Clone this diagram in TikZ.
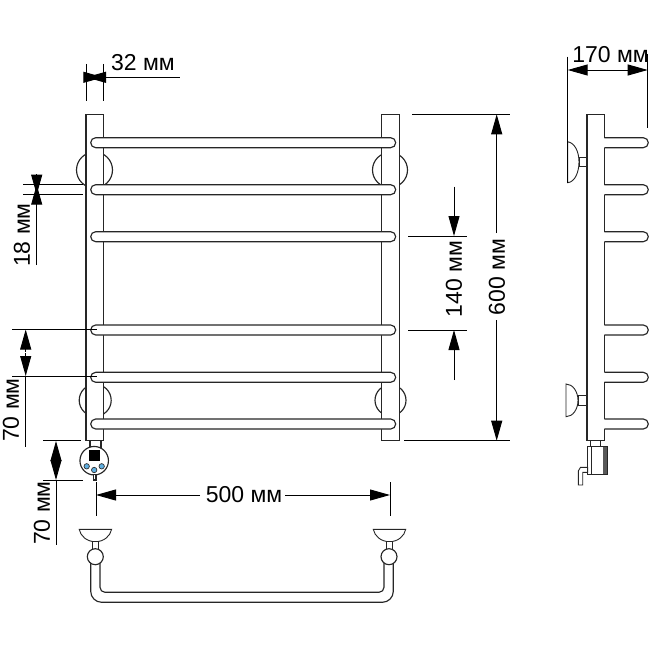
\documentclass[tikz,border=0pt]{standalone}
\usepackage{fontspec}
\setmainfont{Liberation Sans}
\usetikzlibrary{arrows.meta}

\definecolor{knobblue}{RGB}{95,175,225}

\tikzset{
    part/.style={draw=black!85, line width=1.15pt, fill=white},
    thin part/.style={draw=black!85, line width=0.9pt, fill=white},
    dim/.style={draw=black, line width=0.95pt},
    dimtip/.style={dim, -{Triangle[length=20pt, width=11pt]}},
    dimtext/.style={inner sep=0pt, font=\fontsize{23}{26}\selectfont},
    knob/.style={draw=black!80, line width=0.7pt, fill=knobblue},
}

\begin{document}
\begin{tikzpicture}[x=1pt, y=-1pt]
    \useasboundingbox (0, 0) rectangle (650, 650);

    % front view: wall mounts, rails, bars
    \node[circle, part, minimum size=36pt, inner sep=0pt] at (94.5, 170) (mountA) {};
    \node[circle, part, minimum size=35pt, inner sep=0pt] at (390, 170) (mountB) {};
    \node[circle, part, minimum size=32pt, inner sep=0pt] at (95.2, 400.3) (mountC) {};
    \node[circle, part, minimum size=31pt, inner sep=0pt] at (390.5, 400.3) (mountD) {};
    \draw[part] (86, 114.5) rectangle (103.5, 440.5);
    \draw[part] (381.7, 114.5) rectangle (399.3, 440.5);
    \foreach \y in {137.7, 184.7, 231.7, 325, 372.3, 419} {
        \draw[part, rounded corners=5pt] (90.7, \y) rectangle (395.7, \y+10);
    }

    % heater, front
    \draw[part] (90, 440.5) rectangle (101, 449);
    \node[circle, part, minimum size=28.5pt, inner sep=0pt] at (94.2, 460.7) (bulb) {};
    \draw[part] (93.2, 474.8) rectangle (96, 480);
    \fill[black] (89.2, 449.5) rectangle (100, 460.5);
    \foreach \x/\y in {86.7/466.3, 94.2/470, 101.7/466.3} {
        \draw[knob] (\x, \y) circle (2.7pt);
    }

    % view from below
    \foreach \x in {95.4, 389.5} {
        \draw[thin part] (\x-16.2, 529.3) -- (\x+16.2, 529.3)
            .. controls (\x+15, 536) and (\x+8.5, 541.7) .. (\x, 541.7)
            .. controls (\x-8.5, 541.7) and (\x-15, 536) .. cycle;
        \draw[thin part] (\x-3, 541.7) rectangle (\x+3, 550);
    }
    \draw[part, fill=none, rounded corners=11pt] (90.7, 560) -- (90.7, 602.3) -- (393.3, 602.3) -- (393.3, 560);
    \draw[part, fill=none, rounded corners=5pt] (100, 560) -- (100, 592.3) -- (384, 592.3) -- (384, 560);
    \node[circle, part, minimum size=16pt, inner sep=0pt] at (95.3, 556.7) (ballL) {};
    \node[circle, part, minimum size=16pt, inner sep=0pt] at (389, 556.7) (ballR) {};

    % side view
    \draw[thin part] (579, 157.7) rectangle (587, 166.7);
    \draw[thin part] (578, 395.7) rectangle (587, 405);
    \draw[thin part] (567.7, 141.7) .. controls (575, 143) and (579, 152) .. (579, 162)
        .. controls (579, 172) and (575, 182) .. (567.7, 182.7) -- cycle;
    \draw[thin part] (566, 384) .. controls (573, 384) and (578, 392) .. (578, 400.3)
        .. controls (578, 409) and (573, 416.7) .. (566, 416.7) -- cycle;
    \draw[part] (587, 114.5) rectangle (604.3, 440.5);
    \foreach \y in {137.7, 184.7, 231.7, 325, 372.3, 419} {
        \fill[white] (603, \y) rectangle (606, \y+10);
        \draw[part, fill=none] (604.3, \y) -- (643.3, \y)
            arc[start angle=90, end angle=-90, radius=5pt] -- (604.3, \y+10);
    }

    % heater, side
    \draw[part] (590.7, 440.5) rectangle (600.7, 446.7);
    \draw[part, line width=0.9pt] (578.3, 485) -- (578.3, 471) -- (580.5, 467.3) -- (587.7, 467.3)
        -- (587.7, 472.3) -- (582.7, 472.3) -- (582.7, 485) -- cycle;
    \fill[black!65] (603.3, 446.7) rectangle (607.7, 474.3);
    \draw[part, fill=none] (587.7, 446.7) rectangle (607.7, 474.3);
    \draw[part, fill=none] (591.7, 446.7) -- (591.7, 474.3);

    % labels
    \node[dimtext, anchor=west] at (111, 63) (widthLabel) {32 мм};
    \node[dimtext, rotate=90] at (22, 235) (gapLabel) {18 мм};
    \node[dimtext, rotate=90] at (11, 410) (stepLabel) {70 мм};
    \node[dimtext, rotate=90] at (42, 513) (heaterLabel) {70 мм};
    \node[dimtext] at (244, 495) (spanLabel) {500 мм};
    \node[dimtext, rotate=90] at (454, 279) (pitchLabel) {140 мм};
    \node[dimtext, rotate=90] at (497, 277) (heightLabel) {600 мм};
    \node[dimtext] at (610.5, 55) (depthLabel) {170 мм};

    % extension lines
    \draw[dim] (86, 64) -- (86, 101);
    \draw[dim] (103.3, 64) -- (103.3, 101);
    \draw[dim] (23, 184.7) -- (83, 184.7);
    \draw[dim] (23, 194.7) -- (82.7, 194.7);
    \draw[dim] (12, 329.5) -- (97, 329.5);
    \draw[dim] (12, 376) -- (97, 376);
    \draw[dim] (43, 440.7) -- (81, 440.7);
    \draw[dim] (43, 480) -- (83, 480);
    \draw[dim] (96, 482) -- (96, 515.5);
    \draw[dim] (390, 482) -- (390, 515.5);
    \draw[dim] (412, 114.3) -- (510, 114.3);
    \draw[dim] (404, 440.7) -- (510, 440.7);
    \draw[dim] (408, 236) -- (467, 236);
    \draw[dim] (408, 330) -- (467, 330);
    \draw[dim] (567.7, 56.7) -- (567.7, 183);
    \draw[dim] (647.7, 54) -- (647.7, 128);

    % dimension arrows
    \draw[dimtip] (84, 77.3) -- (103.3, 77.3);
    \draw[dimtip] (179.5, 77.3) -- (86, 77.3);
    \draw[dimtip] (36.7, 174) -- (36.7, 194.7);
    \draw[dimtip] (36.7, 265) -- (36.7, 184.7);
    \draw[dimtip] (25.7, 352) -- (25.7, 329.5);
    \draw[dimtip] (25.7, 353) -- (25.7, 376);
    \draw[dim] (25.7, 376) -- (25.7, 447.3);
    \draw[dimtip] (56, 461) -- (56, 441);
    \draw[dimtip] (56, 460) -- (56, 480);
    \draw[dim] (56, 480) -- (56, 545);
    \draw[dimtip] (200, 495) -- (96, 495);
    \draw[dimtip] (285, 495) -- (390, 495);
    \draw[dimtip] (454, 186.7) -- (454, 236);
    \draw[dimtip] (454, 380) -- (454, 330);
    \draw[dimtip] (496.7, 233) -- (496.7, 114.3);
    \draw[dimtip] (496.7, 320) -- (496.7, 440.7);
    \draw[dimtip] (607.7, 70) -- (567.7, 70);
    \draw[dimtip] (607.7, 70) -- (647.7, 70);
\end{tikzpicture}
\end{document}
